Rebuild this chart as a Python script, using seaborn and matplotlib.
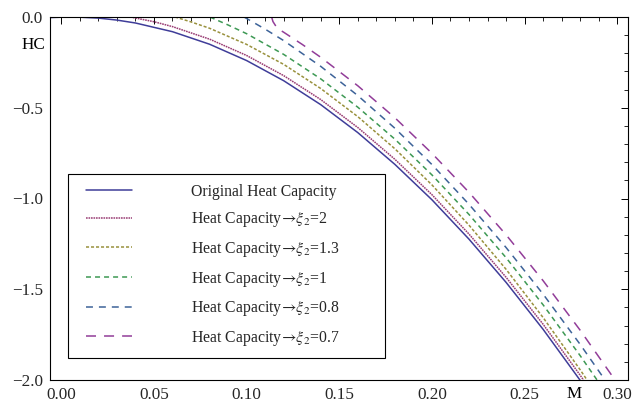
import numpy as np
import pandas as pd
import matplotlib
matplotlib.use("Agg")
import matplotlib.pyplot as plt
import seaborn as sns
from matplotlib.ticker import MultipleLocator, FuncFormatter
from matplotlib.legend_handler import HandlerLine2D

# ---------------- data ----------------
labels = [
    "Original Heat Capacity",
    r"Heat Capacity$\!\rightarrow\!\xi_2$=2",
    r"Heat Capacity$\!\rightarrow\!\xi_2$=1.3",
    r"Heat Capacity$\!\rightarrow\!\xi_2$=1",
    r"Heat Capacity$\!\rightarrow\!\xi_2$=0.8",
    r"Heat Capacity$\!\rightarrow\!\xi_2$=0.7",
]

m_orig = [-0.006, 0.00, 0.01, 0.02, 0.03, 0.04, 0.06, 0.08, 0.10, 0.12, 0.14, 0.16, 0.18, 0.20, 0.22, 0.24, 0.26, 0.28]
hc_orig = [-0.003, -0.001, -0.001, -0.006, -0.017, -0.033, -0.081, -0.150, -0.240, -0.351, -0.483, -0.637, -0.812, -1.007, -1.224, -1.462, -1.721, -2.002]

m_xi20 = [0.0373, 0.05, 0.06, 0.08, 0.10, 0.12, 0.14, 0.16, 0.18, 0.20, 0.22, 0.24, 0.26, 0.28, 0.2818]
hc_xi20 = [0.0, -0.026, -0.053, -0.122, -0.212, -0.323, -0.455, -0.609, -0.784, -0.979, -1.196, -1.434, -1.693, -1.974, -2.000]

m_xi13 = [0.0614, 0.07, 0.08, 0.10, 0.12, 0.14, 0.16, 0.18, 0.20, 0.22, 0.24, 0.26, 0.28, 0.2837]
hc_xi13 = [0.0, -0.027, -0.062, -0.151, -0.261, -0.394, -0.549, -0.726, -0.925, -1.147, -1.390, -1.656, -1.944, -2.000]

m_xi10 = [0.0802, 0.09, 0.10, 0.12, 0.14, 0.16, 0.18, 0.20, 0.22, 0.24, 0.26, 0.28, 0.2891]
hc_xi10 = [0.0, -0.044, -0.092, -0.206, -0.341, -0.497, -0.673, -0.870, -1.088, -1.326, -1.586, -1.866, -2.000]

m_xi08 = [0.0986, 0.11, 0.12, 0.14, 0.16, 0.18, 0.20, 0.22, 0.24, 0.26, 0.28, 0.2934]
hc_xi08 = [0.0, -0.067, -0.130, -0.272, -0.433, -0.613, -0.813, -1.032, -1.270, -1.527, -1.804, -2.000]

m_xi07 = [0.1135, 0.1142, 0.1165, 0.12, 0.13, 0.14, 0.16, 0.18, 0.20, 0.22, 0.24, 0.26, 0.28, 0.2988]
hc_xi07 = [0.0, -0.025, -0.062, -0.084, -0.151, -0.222, -0.379, -0.555, -0.751, -0.966, -1.200, -1.453, -1.726, -2.000]

x_ticks = [0.00, 0.05, 0.10, 0.15, 0.20, 0.25, 0.30]
y_ticks = [0.0, -0.5, -1.0, -1.5, -2.0]

# ---------------- styling ----------------
sns.set_theme(style="white")
plt.rcParams["font.family"] = ["Liberation Serif", "DejaVu Serif"]
plt.rcParams["mathtext.fontset"] = "stix"
plt.rcParams["lines.scale_dashes"] = False
plt.rcParams["axes.unicode_minus"] = True

colors = [
    (0.247, 0.240, 0.600),
    (0.600, 0.240, 0.456),
    (0.600, 0.569, 0.240),
    (0.240, 0.600, 0.331),
    (0.240, 0.388, 0.600),
    (0.574, 0.240, 0.600),
]
dash_styles = ["", (1.2, 0.6), (2.2, 1.4), (3.6, 2.9), (5.0, 4.3), (7.2, 5.8)]

series_m = [m_orig, m_xi20, m_xi13, m_xi10, m_xi08, m_xi07]
series_hc = [hc_orig, hc_xi20, hc_xi13, hc_xi10, hc_xi08, hc_xi07]

frames = []
for lab, mm, hh in zip(labels, series_m, series_hc):
    frames.append(pd.DataFrame({"M": mm, "HC": hh, "series": lab}))
df = pd.concat(frames, ignore_index=True)

W, H = 635, 407
fig = plt.figure(figsize=(W / 100, H / 100), dpi=100)
ax = fig.add_axes([50 / W, 1 - 380 / H, 578 / W, 363 / H])

sns.lineplot(
    data=df, x="M", y="HC", hue="series", style="series",
    hue_order=labels, style_order=labels,
    palette=dict(zip(labels, colors)),
    dashes=dict(zip(labels, dash_styles)),
    estimator=None, sort=False, linewidth=1.1, legend=False, ax=ax,
)

ax.set_xlim(-0.0061, 0.3058)
ax.set_ylim(-2.0, 0.0)
ax.set_xlabel("")
ax.set_ylabel("")

ax.set_xticks(x_ticks)
ax.set_yticks(y_ticks)
ax.xaxis.set_minor_locator(MultipleLocator(0.01))
ax.yaxis.set_minor_locator(MultipleLocator(0.1))


def xfmt(v, p):
    return f"{v:.2f}"


def yfmt(v, p):
    if abs(v) < 1e-9:
        v = 0.0
    return f"{v:.1f}".replace("-", "\u2212")


ax.xaxis.set_major_formatter(FuncFormatter(xfmt))
ax.yaxis.set_major_formatter(FuncFormatter(yfmt))

ax.tick_params(which="both", direction="in", top=True, right=True,
               labeltop=False, labelright=False, color="black",
               labelsize=12.3, pad=5)
ax.tick_params(which="major", length=5, width=0.7)
ax.tick_params(which="minor", length=3, width=0.6)
for s in ax.spines.values():
    s.set_color("black")
    s.set_linewidth(0.8)

ax.text(-0.0087, 0.923, "HC", transform=ax.transAxes, ha="right", va="center",
        fontsize=12.3, color="black")
fig.text(574 / W, 1 - 394 / H, "M", ha="center", va="center", fontsize=12.3,
         color="black")


class ShiftedLine(HandlerLine2D):
    def __init__(self, shift, **kw):
        super().__init__(**kw)
        self.shift = shift

    def create_artists(self, legend, orig_handle, xdescent, ydescent, width,
                       height, fontsize, trans):
        arts = super().create_artists(legend, orig_handle, xdescent, ydescent,
                                      width, height, fontsize, trans)
        for a in arts:
            a.set_xdata(np.asarray(a.get_xdata()) + self.shift)
        return arts


handles = list(ax.get_lines())[:len(labels)]
leg = ax.legend(
    handles=handles, labels=labels, loc="lower left",
    bbox_to_anchor=((68 - 50) / 578, (380 - 358) / 363, 317 / 578, 0.5),
    mode="expand", borderaxespad=0, fontsize=11.3,
    handlelength=2.93, handletextpad=4.27, borderpad=0.64, labelspacing=0.68,
    fancybox=False, framealpha=1, edgecolor="black",
    handler_map={h: ShiftedLine(5.8) for h in handles},
)
leg.get_frame().set_linewidth(0.8)

fig.savefig("out.png", dpi=100)
